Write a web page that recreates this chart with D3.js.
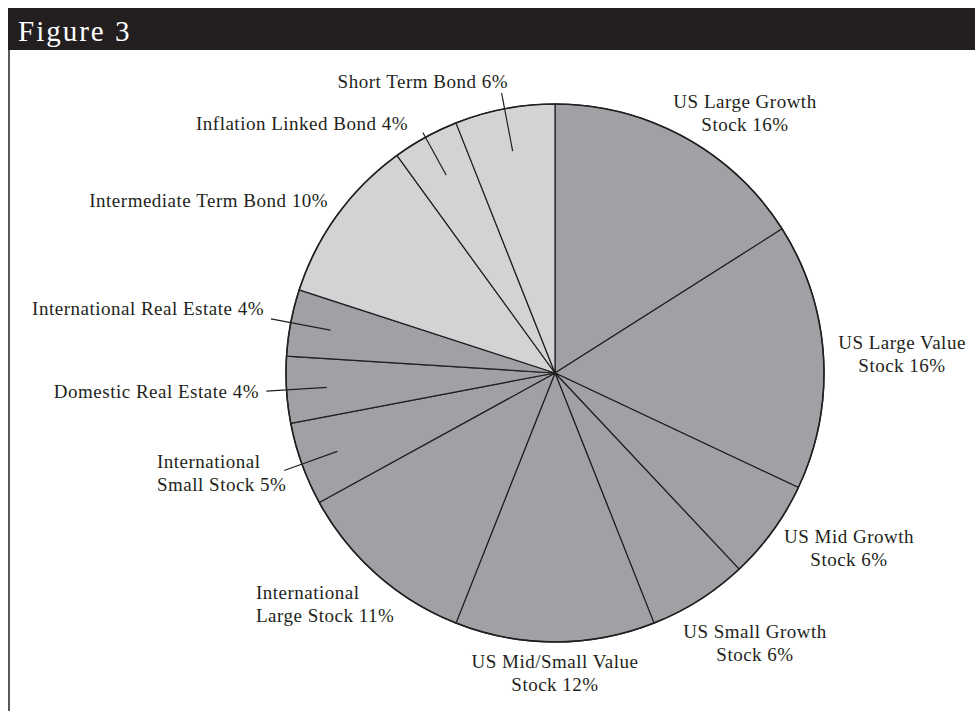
<!DOCTYPE html>
<html>
<head>
<meta charset="utf-8">
<script src="https://cdn.jsdelivr.net/npm/d3@7"></script>
<style>
  body { margin: 0; background: #fff; }
  svg { display: block; }
  .lbl { font-family: "Liberation Serif", serif; font-size: 19px; letter-spacing: 0.5px; fill: #231f20; }
</style>
</head>
<body>
<svg id="chart" width="975" height="711"></svg>
<script>
// slices, clockwise from 12 o'clock
const categories = [
  'US Large Growth Stock', 'US Large Value Stock', 'US Mid Growth Stock',
  'US Small Growth Stock', 'US Mid/Small Value Stock', 'International Large Stock',
  'International Small Stock', 'Domestic Real Estate', 'International Real Estate',
  'Intermediate Term Bond', 'Inflation Linked Bond', 'Short Term Bond'
]
const weights = [16, 16, 6, 6, 12, 11, 5, 4, 4, 10, 4, 6]
const assetGroup = ['equity', 'equity', 'equity', 'equity', 'equity', 'equity',
  'equity', 'equity', 'equity', 'bond', 'bond', 'bond']

// how each label is written (line breaks) - text only
const labelLines = [
  ['US Large Growth', 'Stock 16%'],
  ['US Large Value', 'Stock 16%'],
  ['US Mid Growth', 'Stock 6%'],
  ['US Small Growth', 'Stock 6%'],
  ['US Mid/Small Value', 'Stock 12%'],
  ['International', 'Large Stock 11%'],
  ['International', 'Small Stock 5%'],
  ['Domestic Real Estate 4%'],
  ['International Real Estate 4%'],
  ['Intermediate Term Bond 10%'],
  ['Inflation Linked Bond 4%'],
  ['Short Term Bond 6%']
]

// label placement (layout, not data)
const labelPlace = [
  { x: 745, y: 108, anchor: 'middle' },
  { x: 902, y: 349, anchor: 'middle' },
  { x: 849, y: 543, anchor: 'middle' },
  { x: 755, y: 638, anchor: 'middle' },
  { x: 555, y: 668, anchor: 'middle' },
  { x: 256, y: 599, anchor: 'start' },
  { x: 157, y: 468, anchor: 'start' },
  { x: 259, y: 398, anchor: 'end' },
  { x: 264, y: 315, anchor: 'end' },
  { x: 328, y: 207, anchor: 'end' },
  { x: 408, y: 130, anchor: 'end' },
  { x: 508, y: 88, anchor: 'end' }
]
// slices that get a leader line: [inner radius factor, outer radius factor]
const leaders = { 6: [0.86, 1.07], 7: [0.85, 1.075], 8: [0.85, 1.075], 10: [0.84, 1.02], 11: [0.84, 1.06] }

const fillColor = d3.scaleOrdinal().domain(['equity', 'bond']).range(['#a0a1a4', '#d2d3d5'])

const svg = d3.select('#chart')
const cx = 555, cy = 373, radius = 269

// header bar + frame line
svg.append('rect').attr('x', 8).attr('y', 8).attr('width', 967).attr('height', 42).attr('fill', '#231f20')
svg.append('text').attr('x', 18).attr('y', 41)
  .attr('font-family', '"Liberation Serif", serif').attr('font-size', 29)
  .attr('letter-spacing', 2)
  .attr('fill', '#fff').text('Figure 3')
svg.append('line').attr('x1', 9).attr('x2', 9).attr('y1', 50).attr('y2', 711)
  .attr('stroke', '#231f20').attr('stroke-width', 1.5)

const data = categories.map((c, i) => ({ name: c, value: weights[i], group: assetGroup[i], i: i }))

const pie = d3.pie().sort(null).value(d => d.value)
const arcs = pie(data)
const arc = d3.arc().innerRadius(0).outerRadius(radius)

const g = svg.append('g').attr('transform', `translate(${cx},${cy})`)

g.selectAll('path.slice')
  .data(arcs)
  .join('path')
  .attr('class', 'slice')
  .attr('d', arc)
  .attr('fill', d => fillColor(d.data.group))
  .attr('stroke', '#231f20')
  .attr('stroke-width', 1.2)
  .attr('stroke-linejoin', 'round')

// outer rim slightly heavier
g.append('circle').attr('r', radius).attr('fill', 'none')
  .attr('stroke', '#231f20').attr('stroke-width', 1.6)

// leader lines
arcs.forEach(function(d, i) {
  if (!leaders[i]) return
  const mid = (d.startAngle + d.endAngle) / 2
  const r0 = radius * leaders[i][0], r1 = radius * leaders[i][1]
  g.append('line')
    .attr('x1', Math.sin(mid) * r0).attr('y1', -Math.cos(mid) * r0)
    .attr('x2', Math.sin(mid) * r1).attr('y2', -Math.cos(mid) * r1)
    .attr('stroke', '#231f20').attr('stroke-width', 1.2)
})

// labels
labelLines.forEach(function(lines, i) {
  const p = labelPlace[i]
  const t = svg.append('text').attr('class', 'lbl')
    .attr('text-anchor', p.anchor)
  lines.forEach(function(line, k) {
    t.append('tspan').attr('x', p.x).attr('y', p.y + k * 22.5).text(line)
  })
})
</script>
</body>
</html>
